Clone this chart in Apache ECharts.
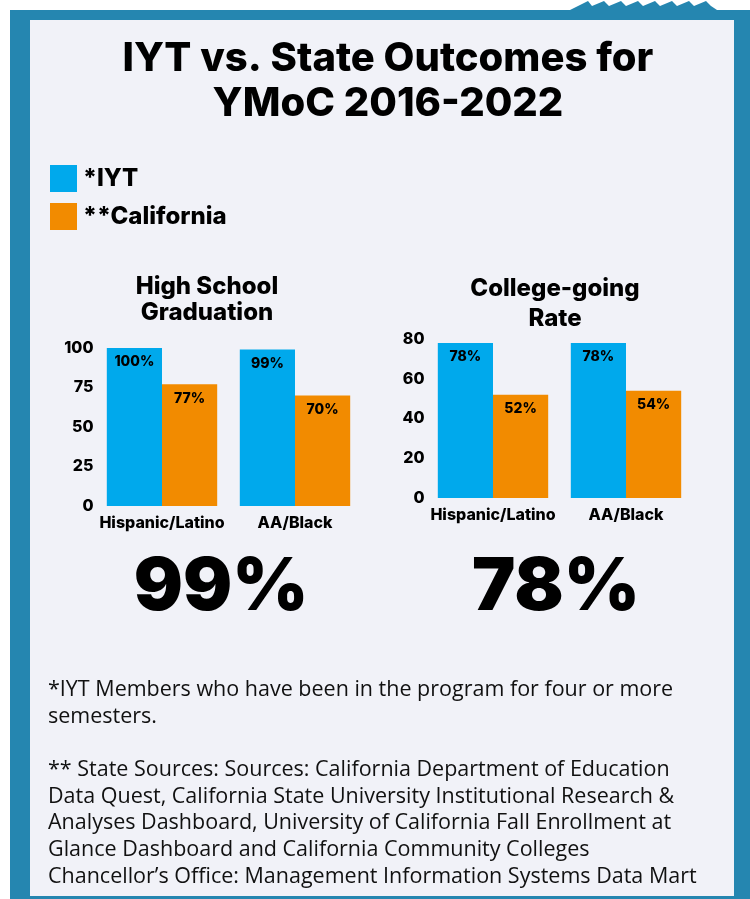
<!DOCTYPE html>
<html>
<head>
<meta charset="utf-8">
<script src="https://cdn.jsdelivr.net/npm/echarts@6/dist/echarts.min.js"></script>
<style>
html,body{margin:0;padding:0;background:#ffffff;}
#main{width:750px;height:899px;}
</style>
</head>
<body>
<div id="main"></div>
<script>
// ---- data ----
const categories = ['Hispanic/Latino', 'AA/Black'];
const seriesNames = ['*IYT', '**California'];
const hsIYT = [100, 99];
const hsCA = [77, 70];
const cgIYT = [78, 78];
const cgCA = [52, 54];
const hsTicks = [0, 25, 50, 75, 100];
const cgTicks = [0, 20, 40, 60, 80];
const bigNumbers = ['99%', '78%'];
const mainTitle = 'IYT vs. State Outcomes for\nYMoC 2016-2022';
const chartTitles = ['High School\nGraduation', 'College-going\nRate'];
const footnote = '*IYT Members who have been in the program for four or more\nsemesters.\n\n** State Sources: Sources: California Department of Education\nData Quest, California State University Institutional Research &\nAnalyses Dashboard, University of California Fall Enrollment at\nGlance Dashboard and California Community Colleges\nChancellor\u2019s Office: Management Information Systems Data Mart';

const BLUE = '#00a9ec';
const ORANGE = '#f28b00';
const FRAME = '#2586b0';
const BG = '#f1f2f8';
const BOLD = '"Inter", "Lato", "DejaVu Sans", sans-serif';
const REG = '"Open Sans", "Lato", sans-serif';

const chart = echarts.init(document.getElementById('main'));

function barSeries(name, data, idx, color) {
  return {
    name: name, type: 'bar', xAxisIndex: idx, yAxisIndex: idx,
    data: data, barGap: '0%', barCategoryGap: '17%',
    itemStyle: {color: color},
    label: {
      show: true, position: 'insideTop', distance: 7,
      formatter: p => p.value + '%',
      fontFamily: BOLD, fontWeight: 800, fontSize: 14, color: '#000'
    }
  };
}

const axisX = idx => ({
  type: 'category', gridIndex: idx, data: categories,
  axisLine: {show: false}, axisTick: {show: false},
  axisLabel: {interval: 0, fontFamily: BOLD, fontWeight: 800, fontSize: 16, color: '#000', margin: 9}
});
const axisY = (idx, ticks) => ({
  type: 'value', gridIndex: idx, min: ticks[0], max: ticks[ticks.length - 1],
  interval: ticks[1] - ticks[0],
  splitLine: {show: false}, axisLine: {show: false}, axisTick: {show: false},
  axisLabel: {fontFamily: BOLD, fontWeight: 800, fontSize: 16, color: '#000', margin: 2}
});

const zig = [[570,10],[588,1],[592,6],[604,1],[609,6],[621,1],[626,6],[638,1],[643,6],[655,1],[660,6],[672,1],[677,6],[689,1],[694,6],[706,1],[711,6],[717,10]];

chart.setOption({
  backgroundColor: '#ffffff',
  animation: false,
  graphic: [
    {type: 'polygon', shape: {points: zig}, style: {fill: FRAME}, z: -10},
    {type: 'rect', shape: {x: 10, y: 10, width: 740, height: 889}, style: {fill: FRAME}, z: -10},
    {type: 'rect', shape: {x: 30, y: 20, width: 704, height: 876}, style: {fill: BG}, z: -9},
    {type: 'text', x: 388, y: 36, style: {text: mainTitle, font: '800 40px ' + BOLD, fill: '#000', align: 'center', verticalAlign: 'top', lineHeight: 45}, z: 5},
    {type: 'text', x: 207, y: 274, style: {text: chartTitles[0], font: '800 24px ' + BOLD, fill: '#000', align: 'center', verticalAlign: 'top', lineHeight: 26}, z: 5},
    {type: 'text', x: 555, y: 274, style: {text: chartTitles[1], font: '800 24px ' + BOLD, fill: '#000', align: 'center', verticalAlign: 'top', lineHeight: 30}, z: 5},
    {type: 'text', x: 221, y: 588, style: {text: bigNumbers[0], font: '900 73px ' + BOLD, fill: '#000', align: 'center', verticalAlign: 'middle'}, z: 5},
    {type: 'text', x: 556, y: 588, style: {text: bigNumbers[1], font: '900 73px ' + BOLD, fill: '#000', align: 'center', verticalAlign: 'middle'}, z: 5},
    {type: 'text', x: 48, y: 677, style: {text: footnote, font: '21.5px ' + REG, fill: '#111', align: 'left', verticalAlign: 'top', lineHeight: 26.6}, z: 5}
  ],
  legend: {
    orient: 'vertical', left: 45, top: 160, itemWidth: 27, itemHeight: 27, itemGap: 11,
    icon: 'rect', data: seriesNames,
    textStyle: {fontFamily: BOLD, fontWeight: 800, fontSize: 24, color: '#000', padding: [0, 0, 8, 1]}
  },
  grid: [
    {left: 95.5, width: 266, top: 348, height: 158},
    {left: 426.5, width: 266, top: 339, height: 159}
  ],
  xAxis: [axisX(0), axisX(1)],
  yAxis: [axisY(0, hsTicks), axisY(1, cgTicks)],
  series: [
    barSeries(seriesNames[0], hsIYT, 0, BLUE),
    barSeries(seriesNames[1], hsCA, 0, ORANGE),
    barSeries(seriesNames[0], cgIYT, 1, BLUE),
    barSeries(seriesNames[1], cgCA, 1, ORANGE)
  ]
});
</script>
</body>
</html>
